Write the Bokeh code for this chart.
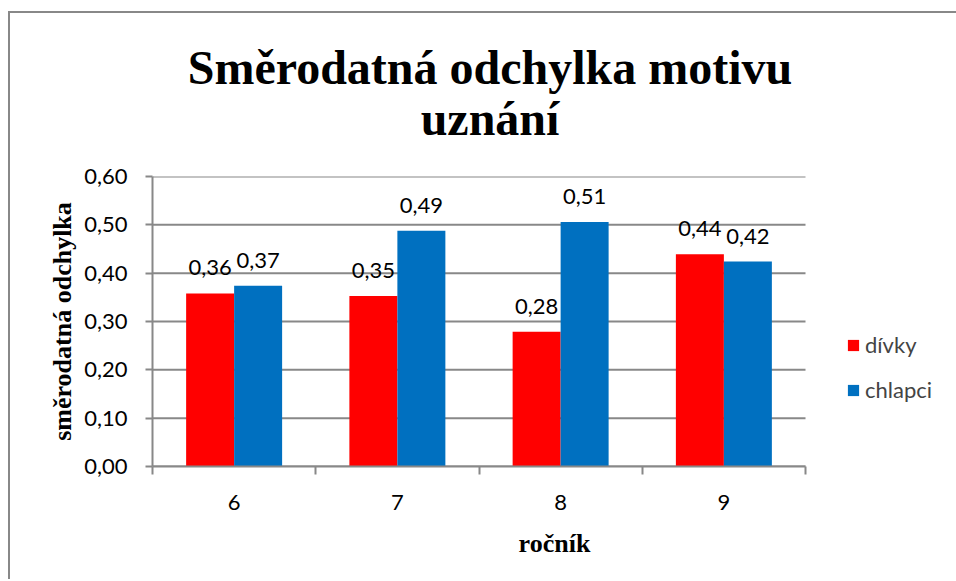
import numpy as np
from bokeh.plotting import figure
from bokeh.layouts import column
from bokeh.models import (Range1d, FixedTicker, ColumnDataSource, LabelSet, Div,
                          Legend, LegendItem)
from bokeh.core.properties import value
from bokeh.embed import file_html
from bokeh.resources import INLINE

# ---- data ----
categories = ["6", "7", "8", "9"]
divky = [0.358, 0.353, 0.279, 0.439]
chlapci = [0.374, 0.488, 0.506, 0.424]
y_ticks = [0.0, 0.1, 0.2, 0.3, 0.4, 0.5, 0.6]
series_names = ["dívky", "chlapci"]
title_lines = ["Směrodatná odchylka motivu", "uznání"]
y_title = "směrodatná odchylka"
x_title = "ročník"

RED = "#FF0000"
BLUE = "#0070C0"
GRID = "#888888"
SANS = "Lato"
SERIF = "Liberation Serif"

def fmt(v):
    return f"{v:.2f}".replace(".", ",")

n = len(categories)
idx = np.arange(n)
bar_w = 0.294

# layout: bar area is 653px of the frame (legend sits in the extra room on the right)
W, H_TOP, H_PLOT = 946, 143, 423
BORDER_L, AREA_W = 142, 653
FRAME_W = W - BORDER_L
x_end = n * FRAME_W / AREA_W

src_d = ColumnDataSource(dict(x=idx + 0.5 - bar_w / 2, top=divky, lab=[fmt(v) for v in divky]))
src_c = ColumnDataSource(dict(x=idx + 0.5 + bar_w / 2, top=chlapci, lab=[fmt(v) for v in chlapci]))

title_div = Div(
    text=(f'<div style="width:{W}px;box-sizing:border-box;padding-left:14px;padding-top:29px;'
          'text-align:center;font-family:\'Liberation Serif\';font-weight:bold;'
          'font-size:48px;line-height:51px;color:black;">'
          + "<br>".join(title_lines) + "</div>"),
    width=W, height=H_TOP, margin=0)

p = figure(width=W, height=H_PLOT, output_backend="svg", toolbar_location=None,
           x_range=Range1d(0, x_end), y_range=Range1d(y_ticks[0], y_ticks[-1]),
           min_border_left=BORDER_L, min_border_right=0, min_border_top=20,
           min_border_bottom=113, margin=0)
p.outline_line_color = None
p.background_fill_color = "white"
p.border_fill_color = "white"

# horizontal gridlines limited to the bar area
p.xgrid.visible = False
p.ygrid.visible = False
p.segment(x0=[0] * len(y_ticks), x1=[n] * len(y_ticks), y0=y_ticks, y1=y_ticks,
          line_color=GRID, line_width=2)

r_d = p.vbar(x="x", top="top", width=bar_w, bottom=0, source=src_d,
             fill_color=RED, line_color=None)
r_c = p.vbar(x="x", top="top", width=bar_w, bottom=0, source=src_c,
             fill_color=BLUE, line_color=None)

yax = p.yaxis[0]
yax.ticker = FixedTicker(ticks=y_ticks)
yax.major_label_overrides = {t: fmt(t) for t in y_ticks}
yax.axis_line_color = GRID
yax.axis_line_width = 2
yax.major_tick_line_color = GRID
yax.major_tick_line_width = 2
yax.major_tick_out = 7
yax.major_tick_in = 0
yax.minor_tick_line_color = None
yax.major_label_standoff = 18
yax.major_label_text_font = SANS
yax.major_label_text_font_size = "22px"
yax.major_label_text_color = "black"
yax.axis_label = y_title
yax.axis_label_text_font = SERIF
yax.axis_label_text_font_style = "bold"
yax.axis_label_text_font_size = "26px"
yax.axis_label_text_color = "black"
yax.axis_label_standoff = 4

xax = p.xaxis[0]
centers = list(idx + 0.5)
xax.bounds = (0, n)
xax.ticker = FixedTicker(ticks=centers, minor_ticks=list(range(n + 1)))
xax.major_label_overrides = {c: cat for c, cat in zip(centers, categories)}
xax.axis_line_color = GRID
xax.axis_line_width = 2
xax.major_tick_line_color = None
xax.major_tick_out = 0
xax.major_tick_in = 0
xax.minor_tick_line_color = GRID
xax.minor_tick_line_width = 2
xax.minor_tick_out = 8
xax.minor_tick_in = 0
xax.major_label_standoff = 20
xax.major_label_text_font = SANS
xax.major_label_text_font_size = "22px"
xax.major_label_text_color = "black"
xax.axis_label = x_title
xax.axis_label_text_font = SERIF
xax.axis_label_text_font_style = "bold"
xax.axis_label_text_font_size = "26px"
xax.axis_label_text_color = "black"
xax.axis_label_standoff = 16

# data labels
for src in (src_d, src_c):
    p.add_layout(LabelSet(x="x", y="top", text="lab", source=src, y_offset=18,
                          text_align="center", text_baseline="alphabetic",
                          text_font=value(SANS), text_font_size=value("22px"),
                          text_color="black"))

legend = Legend(items=[LegendItem(label=series_names[0], renderers=[r_d]),
                       LegendItem(label=series_names[1], renderers=[r_c])],
                location=(694, 63), padding=0, margin=0, spacing=18,
                glyph_width=14, glyph_height=14, label_standoff=5,
                label_text_font=SANS, label_text_font_size="22px",
                border_line_color=None, background_fill_alpha=0)
p.add_layout(legend, "center")

layout = column(title_div, p, spacing=0)
layout.styles = {"border-top": "2px solid #888888", "border-left": "2px solid #888888",
                 "margin-top": "11px", "margin-left": "8px"}

open("out.html", "w").write(file_html(layout, INLINE))
